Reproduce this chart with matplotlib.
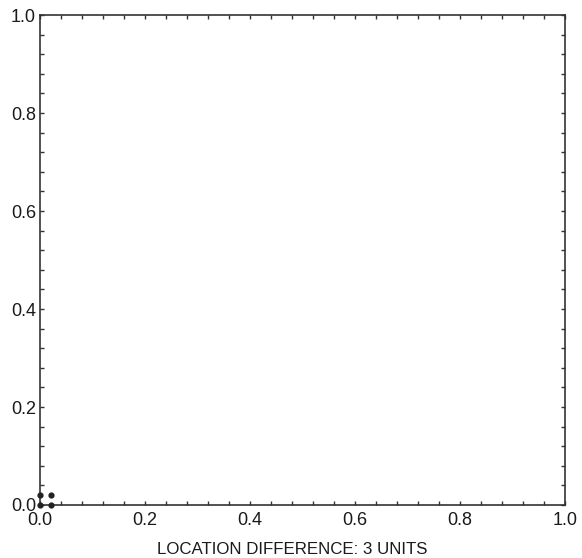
import numpy as np
import matplotlib.pyplot as plt

plt.rcParams['font.family'] = ['Liberation Sans', 'DejaVu Sans']

# points near the origin
x = [0.0, 0.02, 0.0, 0.02]
y = [0.0, 0.0, 0.02, 0.02]

xlabel = "LOCATION DIFFERENCE: 3 UNITS"
major = [0.0, 0.2, 0.4, 0.6, 0.8, 1.0]

fig = plt.figure(figsize=(5.82, 5.58), dpi=100)
ax = fig.add_axes([0.069, 0.095, 0.902, 0.878])

ax.scatter(x, y, s=12, c='#222222', clip_on=False, zorder=3)

ax.set_xlim(0, 1)
ax.set_ylim(0, 1)
ax.set_xticks(major)
ax.set_yticks(major)
ax.set_xticklabels([f"{v:.1f}" for v in major])
ax.set_yticklabels([f"{v:.1f}" for v in major])
ax.set_xticks(np.arange(0, 1.001, 0.04), minor=True)
ax.set_yticks(np.arange(0, 1.001, 0.04), minor=True)
ax.tick_params(which='both', direction='in', top=True, right=True,
               length=3, width=1, colors='#333333')
ax.tick_params(which='major', labelsize=13, labelcolor='#1a1a1a')
ax.tick_params(axis='x', pad=5)
ax.tick_params(axis='y', pad=3)
for s in ax.spines.values():
    s.set_linewidth(1.2)
    s.set_color('#333333')

ax.set_xlabel(xlabel, fontsize=12.2, color='#1a1a1a')
ax.xaxis.set_label_coords(0.48, -0.076)

fig.savefig("out.png", dpi=100)
